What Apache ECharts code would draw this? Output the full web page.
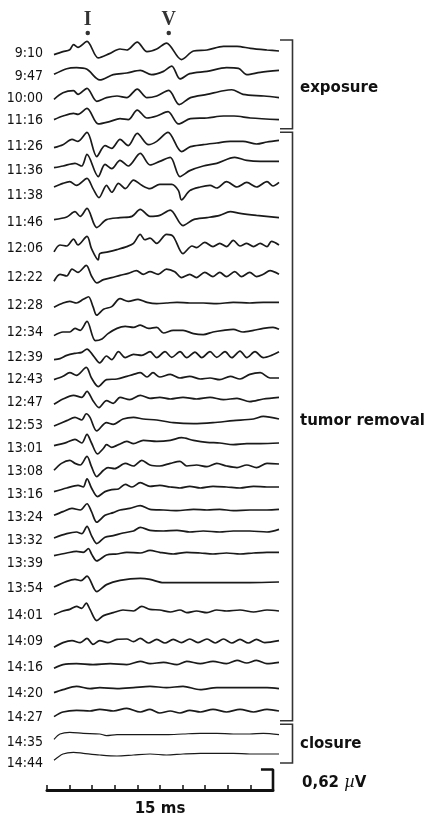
<!DOCTYPE html>
<html><head><meta charset="utf-8">
<script src="https://cdn.jsdelivr.net/npm/echarts@6/dist/echarts.min.js"></script>
<style>html,body{margin:0;padding:0;background:#fff}#c{width:433px;height:819px}</style>
</head><body><div id="c"></div>
<script>
// ---------- DATA (time in ms, amplitude in µV) ----------
const traceLabels = ['9:10','9:47','10:00','11:16','11:26','11:36','11:38','11:46','12:06','12:22','12:28','12:34','12:39','12:43','12:47','12:53','13:01','13:08','13:16','13:24','13:32','13:39','13:54','14:01','14:09','14:16','14:20','14:27','14:35','14:44'];

const w0910 = [[0,-0.14],[0.6,-0.05],[1.05,0.01],[1.3,0.16],[1.6,0.08],[2.2,0.26],[2.95,-0.24],[3.7,-0.11],[4.4,0.03],[4.85,0],[5.55,0.24],[6.2,-0.05],[6.85,0.03],[7.5,0.21],[8.5,-0.29],[9.3,-0.03],[10.2,0],[11.3,0.11],[12.2,0.11],[13.1,0.05],[14.2,0],[15,-0.03]];
const w0947 = [[0,-0.04],[0.85,0.13],[1.5,0.16],[2.2,0.11],[3.05,-0.21],[3.95,-0.05],[4.85,0],[5.75,0.08],[6.5,-0.05],[7.3,0.05],[7.85,0.21],[8.4,-0.18],[9.05,-0.02],[10.2,0.05],[11.5,0.16],[12.3,0.14],[12.85,-0.05],[13.75,0.02],[15,0.08]];
const w1000 = [[0,-0.1],[0.6,0.1],[1.3,0.16],[1.6,0.05],[2.2,0.23],[2.85,-0.16],[3.5,-0.05],[4.2,0],[4.85,-0.05],[5.55,0.21],[6.2,-0.05],[6.85,0],[7.65,0.17],[8.35,-0.26],[9.1,-0.05],[10.2,0.05],[11.3,0.16],[11.85,0.19],[12.6,0.05],[14,0],[15,-0.05]];
const w1116 = [[0,-0.08],[0.6,0.03],[1.3,0.11],[1.6,0.08],[2.2,0.26],[2.95,-0.21],[3.7,-0.14],[4.4,-0.05],[4.95,-0.08],[5.55,0.21],[6.2,-0.03],[6.85,0.03],[7.6,0.16],[8.3,-0.21],[9.1,-0.05],[10.2,-0.03],[11.3,0.03],[12,0.03],[13.1,-0.03],[15,-0.08]];
const w1126 = [[0,-0.11],[0.6,-0.02],[1.2,0.14],[1.6,0.08],[2.2,0.35],[2.85,-0.38],[3.4,-0.05],[3.85,-0.13],[4.4,0.14],[4.95,-0.05],[5.55,0.32],[6.3,-0.02],[6.85,0.08],[7.6,0.35],[8.5,-0.23],[9.1,-0.08],[9.95,-0.02],[10.85,0.03],[11.75,0.08],[12.6,0.08],[13.5,0],[14.2,0.06],[15,0.11]];
const w1136 = [[0,-0.08],[0.6,-0.03],[1.4,0.05],[1.85,-0.03],[2.2,0.32],[2.95,-0.35],[3.4,0.02],[3.85,-0.11],[4.4,0.14],[4.95,-0.03],[5.75,0.35],[6.4,0],[7.05,0.11],[7.75,0.23],[8.4,-0.35],[9.05,-0.17],[9.95,-0.03],[10.85,0.05],[12.05,0.23],[12.85,0.14],[13.75,0.11],[15,0.11]];
const w1138 = [[0,-0.03],[0.6,0.08],[1.05,0.13],[1.5,0.02],[2.2,0.23],[2.6,-0.08],[3.0,-0.35],[3.5,0.02],[3.85,-0.19],[4.3,0.08],[4.75,-0.08],[5.3,0.18],[5.85,0.02],[6.4,-0.08],[7.05,0.05],[7.85,0.05],[8.3,-0.14],[8.5,-0.42],[9.05,-0.14],[9.75,-0.03],[10.4,0.02],[10.85,-0.06],[11.5,0.13],[12.2,-0.03],[12.85,0.11],[13.5,-0.03],[14.2,0.13],[14.6,0],[15,0.11]];
const w1146 = [[0,-0.08],[0.85,0],[1.4,0.16],[1.75,0.02],[2.2,0.26],[2.85,-0.32],[3.5,-0.08],[4.4,-0.02],[5.2,0.02],[5.75,0.23],[6.4,0.02],[7.05,0.05],[7.75,0.21],[8.6,-0.26],[9.3,-0.08],[10.2,-0.02],[11.05,0.05],[11.75,0.16],[12.4,0.11],[13.5,0.05],[15,-0.02]];
const w1206 = [[0,-0.18],[0.4,0.03],[0.85,0],[1.3,0.21],[1.6,0.03],[2.2,0.29],[2.5,-0.08],[2.95,-0.42],[3.05,-0.23],[3.6,-0.18],[4.2,-0.11],[4.85,-0.02],[5.3,0.08],[5.75,0.35],[6.05,0.19],[6.4,0.24],[6.85,0.08],[7.5,0.35],[7.95,0.29],[8.6,-0.23],[9.2,0],[9.5,-0.05],[10.05,0.11],[10.6,-0.02],[11.05,0.08],[11.5,-0.02],[11.95,0.17],[12.4,0],[12.85,0.08],[13.3,-0.02],[13.75,0.08],[14.2,-0.02],[14.5,0.14],[15,0.03]];
const w1222 = [[0,-0.19],[0.4,0.02],[0.85,-0.03],[1.2,0.18],[1.6,0.08],[2.15,0.29],[2.5,-0.03],[2.85,-0.24],[3.3,-0.14],[3.85,-0.08],[4.4,-0.01],[4.95,0.05],[5.5,0.13],[5.95,0.02],[6.4,0.1],[6.95,0.02],[7.5,0.18],[8.05,0.1],[8.5,-0.08],[9.05,0.02],[9.5,-0.08],[10.05,0.08],[10.6,-0.05],[11.05,0.08],[11.5,-0.05],[12.05,0.1],[12.5,-0.05],[13.05,0.08],[13.5,-0.05],[13.95,0.02],[14.4,0.13],[15,0.02]];
const w1228 = [[0,-0.13],[0.6,0],[1.05,0.05],[1.5,0],[1.95,0.11],[2.3,0.19],[2.6,-0.11],[2.85,-0.37],[3.3,-0.19],[3.85,-0.11],[4.4,0.13],[4.95,0.05],[5.6,0.11],[6.2,0.02],[6.85,-0.02],[7.5,0],[8.2,0.02],[9.05,0],[9.95,0],[10.85,-0.02],[11.95,0.02],[13.05,0],[13.95,0.02],[15,0.02]];
const w1234 = [[0,-0.14],[0.6,-0.03],[1.05,-0.03],[1.4,0.08],[1.75,0.02],[2.2,0.29],[2.75,-0.29],[3.2,-0.24],[3.6,-0.08],[4.2,0.08],[4.75,0.14],[5.3,0.11],[5.75,0.18],[6.3,0.08],[6.85,0.11],[7.3,-0.06],[7.95,0.02],[8.6,0.02],[9.3,-0.08],[9.95,-0.11],[10.6,-0.03],[11.3,0.02],[11.95,0.05],[12.6,-0.03],[13.3,0.02],[13.95,0.08],[14.6,0.11],[15,0.05]];
const w1239 = [[0,-0.14],[0.4,-0.11],[0.85,-0.01],[1.4,0.05],[1.85,0.08],[2.2,0.18],[2.6,-0.01],[3.05,-0.24],[3.5,-0.03],[3.85,-0.14],[4.3,0.1],[4.75,-0.08],[5.3,0.02],[5.85,-0.01],[6.4,0.1],[6.85,-0.08],[7.4,0.1],[7.85,-0.07],[8.4,0.1],[8.85,-0.08],[9.4,0.09],[9.85,-0.08],[10.4,0.1],[10.85,-0.07],[11.4,0.1],[11.85,-0.08],[12.4,0.12],[12.85,-0.08],[13.4,0.1],[13.95,-0.08],[14.5,-0.01],[15,0.1]];
const w1243 = [[0,-0.08],[0.6,0.02],[1.05,0.13],[1.5,0.05],[2.15,0.29],[2.5,-0.03],[2.95,-0.29],[3.5,-0.08],[4.2,-0.06],[4.85,0.02],[5.3,0.08],[5.75,0.13],[6.2,0],[6.6,0.13],[7.05,0],[7.75,0.08],[8.4,-0.03],[9.05,0.02],[9.75,-0.06],[10.4,-0.03],[11.05,-0.08],[11.75,0.02],[12.4,-0.06],[13.05,0.08],[13.75,0.13],[14.4,-0.03],[15,-0.03]];
const w1247 = [[0,-0.16],[0.6,0],[1.3,0.11],[1.85,0.05],[2.2,0.23],[2.6,-0.05],[3.0,-0.26],[3.5,-0.05],[3.95,-0.13],[4.4,0.05],[5.05,-0.02],[5.75,0.11],[6.4,0.02],[7.05,0.05],[7.75,0],[8.6,0.05],[9.5,0],[10.4,0.05],[11.3,-0.02],[12.2,0.02],[13.05,-0.08],[13.95,0],[15,0.05]];
const w1253 = [[0,-0.18],[0.85,-0.02],[1.4,0.08],[1.85,0],[2.15,0.19],[2.4,0.08],[2.85,-0.33],[3.5,-0.08],[3.95,-0.13],[4.6,0.03],[5.3,0.08],[5.95,0.03],[6.85,0],[7.95,-0.08],[9.3,-0.11],[10.6,-0.08],[11.95,-0.02],[13.3,0.03],[13.95,0.11],[15,0.03]];
const w1301 = [[0,-0.08],[0.85,0.02],[1.4,0.11],[1.85,0],[2.2,0.26],[2.5,0],[2.9,-0.33],[3.3,-0.16],[3.5,-0.05],[3.85,-0.13],[4.3,-0.05],[4.85,0.05],[5.3,-0.02],[5.95,0.08],[6.85,0.05],[7.75,0.08],[8.5,0.16],[9.3,0.08],[10.2,0.02],[11.05,0],[11.95,-0.05],[12.85,-0.02],[13.75,-0.02],[15,0]];
const w1308 = [[0,-0.16],[0.5,0.05],[1.05,0.14],[1.4,0.05],[1.75,0],[2.2,0.26],[2.5,-0.05],[2.85,-0.35],[3.3,-0.16],[3.6,-0.08],[4.05,-0.11],[4.75,0.05],[5.3,-0.03],[5.85,0.14],[6.4,0],[7.05,-0.03],[7.75,0.05],[8.4,0.11],[8.85,-0.03],[9.5,0],[10.2,-0.05],[10.85,0.05],[11.5,-0.03],[12.2,-0.08],[12.85,0],[13.5,-0.08],[14.2,0.05],[15,0.03]];
const w1316 = [[0,-0.14],[0.85,-0.03],[1.6,0.05],[1.95,0],[2.2,0.25],[2.5,-0.03],[2.9,-0.29],[3.4,-0.14],[3.85,-0.08],[4.3,-0.06],[4.75,0.08],[5.2,0],[5.75,0.13],[6.4,0.02],[7.05,0.05],[7.75,0],[8.4,-0.03],[9.05,0.02],[9.75,-0.03],[10.6,0.02],[11.5,0],[12.4,-0.03],[13.3,0.02],[14.2,0],[15,0]];
const w1324 = [[0,-0.16],[0.6,-0.05],[1.2,0.05],[1.75,0],[2.2,0.19],[2.5,-0.05],[2.85,-0.37],[3.4,-0.16],[3.95,-0.08],[4.4,0],[5.05,0.05],[5.75,0.13],[6.4,0.02],[7.3,0],[8.2,-0.02],[9.3,0.02],[10.2,0],[11.05,0.02],[11.95,-0.02],[13.05,0],[14.2,0],[15,0.02]];
const w1332 = [[0,-0.21],[0.85,-0.08],[1.5,-0.03],[1.85,-0.08],[2.2,0.14],[2.5,-0.14],[2.85,-0.38],[3.4,-0.19],[3.95,-0.14],[4.6,-0.06],[5.3,0],[5.75,0.11],[6.4,0.02],[7.3,0],[8.2,0.02],[9.05,-0.03],[9.95,0],[11.05,-0.03],[11.95,0],[13.05,0],[14.2,-0.03],[15,0.05]];
const w1339 = [[0,-0.08],[0.85,0],[1.5,0.05],[1.95,0.02],[2.3,0.13],[2.5,-0.03],[2.85,-0.24],[3.5,-0.06],[4.2,-0.03],[4.85,0.02],[5.75,0],[6.4,0.08],[7.05,0.02],[7.95,-0.03],[8.85,0.02],[9.75,0],[10.6,-0.03],[11.5,0],[12.4,-0.03],[13.3,0],[14.2,0.02],[15,0.02]];
const w1354 = [[0,-0.15],[0.85,0.02],[1.4,0.08],[1.8,0.04],[2.2,0.18],[2.85,-0.29],[3.5,-0.08],[4.4,0.05],[5.75,0.11],[6.4,0.08],[7.3,-0.02],[8.6,-0.02],[10.85,-0.02],[13.05,-0.02],[15,0]];
const w1401 = [[0,-0.11],[0.6,0],[1.05,0.05],[1.5,0.14],[1.85,0.08],[2.15,0.24],[2.4,0.05],[2.85,-0.29],[3.3,-0.14],[3.95,-0.05],[4.6,0.03],[5.3,0],[5.85,0.14],[6.4,0.05],[7.05,0.03],[7.75,-0.03],[8.4,0.03],[8.85,-0.05],[9.5,0],[10.2,-0.05],[10.85,0.03],[11.5,0],[12.4,0.03],[13.3,-0.03],[14.2,0.03],[15,0]];
const w1409 = [[0,-0.19],[0.6,-0.05],[1.2,0.01],[1.75,-0.05],[2.2,0.08],[2.6,-0.1],[3.05,0.01],[3.6,-0.05],[4.2,0.05],[4.85,0.06],[5.3,-0.02],[5.75,0.08],[6.3,-0.06],[6.85,0.05],[7.4,-0.06],[7.95,0.05],[8.5,-0.05],[9.05,0.06],[9.6,-0.05],[10.2,0.06],[10.75,-0.06],[11.3,0.06],[11.85,-0.06],[12.4,0.05],[12.95,-0.06],[13.5,0.05],[14.05,-0.05],[15,0.01]];
const w1416 = [[0,-0.16],[0.6,-0.05],[1.5,-0.02],[2.6,-0.05],[3.75,-0.02],[4.85,-0.05],[5.75,0.05],[6.4,-0.02],[7.3,0.02],[8.2,-0.05],[8.85,0.05],[9.75,-0.02],[10.6,0.05],[11.5,-0.02],[12.2,0.08],[12.85,0],[13.5,0.08],[14.2,-0.02],[15,0.02]];
const w1420 = [[0,-0.14],[0.6,-0.05],[1.5,0.05],[2.4,-0.02],[3.05,0.01],[4.2,-0.02],[5.3,0.01],[6.4,0.05],[7.5,0.01],[8.6,0.05],[9.75,-0.05],[10.85,0.01],[11.95,0.01],[13.05,0.01],[14.2,0.01],[15,-0.02]];
const w1427 = [[0,-0.17],[0.6,-0.03],[1.5,0.02],[2.4,0],[3.05,0.05],[3.95,0],[4.85,0.08],[5.75,-0.03],[6.4,0.05],[7.05,-0.06],[7.75,0],[8.4,-0.06],[9.05,0.02],[9.75,-0.03],[10.6,0.05],[11.5,-0.03],[12.4,0.05],[13.3,-0.03],[14.2,0.05],[15,0]];
const w1435 = [[0,-0.16],[0.4,0],[1.05,0.05],[1.95,0.02],[3.05,0],[3.5,-0.05],[4.2,-0.02],[5.3,-0.02],[6.4,-0.02],[7.5,-0.02],[8.6,0],[9.75,0.02],[10.85,0.02],[11.95,0],[13.05,0],[13.95,0.02],[15,-0.02]];
const w1444 = [[0,-0.19],[0.6,0],[1.3,0.05],[1.95,0.02],[3.05,-0.03],[4.2,-0.06],[5.3,-0.03],[6.4,0],[7.5,-0.03],[8.6,0],[9.75,0.02],[10.85,0.02],[11.95,0.02],[13.05,0],[15,0]];

const traceWaves = [w0910,w0947,w1000,w1116,w1126,w1136,w1138,w1146,w1206,w1222,w1228,w1234,w1239,w1243,w1247,w1253,w1301,w1308,w1316,w1324,w1332,w1339,w1354,w1401,w1409,w1416,w1420,w1427,w1435,w1444];

const peakNames = ['I','V'];
const peakLatencyMs = [2.25, 7.65];

const phaseNames = ['exposure','tumor removal','closure'];
const phaseFirstTrace = [0, 4, 28];
const phaseLastTrace = [3, 27, 29];

const sweepMs = 15;
const scaleTickMs = 1.5;
const calibrationUV = 0.62;
const calibrationText = ['0,62 ', 'µ', 'V'];
const sweepText = '15 ms';

// ---------- LAYOUT ----------
const PX_PER_UV = 33;
const TRACE_LEFT = 54, TRACE_WIDTH = 225;
const traceY = [50,73,96,117,144,165,186,217,246,275,303,331,355,377,399,420,443,465,487,510,531,553,582,611,641,663,688,711,734,754];
const labelY = [53,76,98,120,146,170,195,222,248,277,305,332,357,379,402,425,448,471,494,517,540,563,588,615,641,667,693,717,742,763];
const phaseLabelNudge = [4, -5, 1];

const ink = '#1a1a1a';
const grids = [], xAxes = [], yAxes = [], series = [];
const gridBase = {containLabel: false, outerBoundsMode: 'none'};

traceWaves.forEach((w, i) => {
  const d = (labelY[i] - traceY[i]) / PX_PER_UV;
  grids.push(Object.assign({left: TRACE_LEFT, width: TRACE_WIDTH, top: labelY[i] - PX_PER_UV, height: 2 * PX_PER_UV}, gridBase));
  xAxes.push({gridIndex: i, type: 'value', min: 0, max: sweepMs, show: false});
  yAxes.push({
    gridIndex: i, type: 'value', min: -1 - d, max: 1 - d,
    axisLine: {show: false}, axisTick: {show: false}, axisLabel: {show: false}, splitLine: {show: false},
    name: traceLabels[i], nameLocation: 'middle', nameRotate: 0, nameGap: 11,
    nameTextStyle: {fontFamily: '"DejaVu Sans Condensed", "DejaVu Sans", sans-serif', fontWeight: 'normal', fontSize: 14, color: '#111', align: 'right', verticalAlign: 'middle'}
  });
  series.push({
    type: 'line', xAxisIndex: i, yAxisIndex: i, data: w, showSymbol: false, smooth: 0.3,
    lineStyle: {color: ink, width: i >= phaseFirstTrace[2] ? 1.2 : 1.7}, silent: true
  });
});

// peak markers (I, V)
const gM = grids.length;
grids.push(Object.assign({left: TRACE_LEFT, width: TRACE_WIDTH, top: 28, height: 10}, gridBase));
xAxes.push({gridIndex: gM, type: 'value', min: 0, max: sweepMs, show: false});
yAxes.push({gridIndex: gM, type: 'value', min: 0, max: 1, show: false});
series.push({
  type: 'scatter', xAxisIndex: gM, yAxisIndex: gM, symbolSize: 4.5,
  itemStyle: {color: '#000'},
  data: peakLatencyMs.map((t, k) => ({name: peakNames[k], value: [t, 0.5]})),
  label: {show: true, formatter: '{b}', position: 'inside', offset: [0, -13], fontFamily: 'Liberation Serif', fontWeight: 'bold', fontSize: 20, color: '#000'},
  silent: true
});

// scale bar
const gS = grids.length;
grids.push(Object.assign({left: 47, width: 226, top: 790 - PX_PER_UV, height: PX_PER_UV}, gridBase));
xAxes.push({
  gridIndex: gS, type: 'value', min: 0, max: sweepMs, interval: scaleTickMs,
  axisLine: {show: true, lineStyle: {color: '#111', width: 3}},
  axisTick: {show: true, inside: true, length: 5, lineStyle: {color: '#111', width: 1.5}},
  axisLabel: {show: false}, splitLine: {show: false},
  name: sweepText, nameLocation: 'middle', nameGap: 12,
  nameTextStyle: {fontFamily: 'DejaVu Sans', fontWeight: 'bold', fontSize: 15, color: '#111'}
});
yAxes.push({gridIndex: gS, type: 'value', min: 0, max: 1, show: false});
series.push({
  type: 'line', xAxisIndex: gS, yAxisIndex: gS, showSymbol: false,
  data: [[sweepMs - 0.8, calibrationUV], [sweepMs, calibrationUV], [sweepMs, 0]],
  lineStyle: {color: '#111', width: 2.6}, silent: true
});

// phase brackets
const graphic = [];
const brX = 292.5, brTick = 12.5;
phaseNames.forEach((name, k) => {
  const f = phaseFirstTrace[k], l = phaseLastTrace[k];
  const top = k === 0 ? traceY[f] - 10 : (traceY[f - 1] + traceY[f]) / 2 + 1.7;
  const bottom = k === phaseNames.length - 1 ? traceY[l] + 9 : (traceY[l] + traceY[l + 1]) / 2 - 1.7;
  graphic.push({type: 'polyline', shape: {points: [[brX - brTick, top], [brX, top], [brX, bottom], [brX - brTick, bottom]]},
    style: {stroke: '#333', lineWidth: 1.6, fill: null}, silent: true});
  graphic.push({type: 'text', x: 300, y: (top + bottom) / 2 + phaseLabelNudge[k],
    style: {text: name, fill: '#111', font: 'bold 15px "DejaVu Sans"', textAlign: 'left', textVerticalAlign: 'middle', verticalAlign: 'middle'}, silent: true});
});
graphic.push({type: 'text', x: 302, y: 783,
  style: {text: '{a|' + calibrationText[0] + '}{m|' + calibrationText[1] + '}{a|' + calibrationText[2] + '}',
    rich: {a: {fontFamily: 'DejaVu Sans', fontWeight: 'bold', fontSize: 15, fill: '#111'},
           m: {fontFamily: 'DejaVu Serif', fontStyle: 'italic', fontSize: 16, fill: '#111'}},
    textAlign: 'left', textVerticalAlign: 'middle', verticalAlign: 'middle'}, silent: true});

const chart = echarts.init(document.getElementById('c'), null, {renderer: 'canvas'});
chart.setOption({animation: false, backgroundColor: '#fff', grid: grids, xAxis: xAxes, yAxis: yAxes, series: series, graphic: graphic});
</script></body></html>
